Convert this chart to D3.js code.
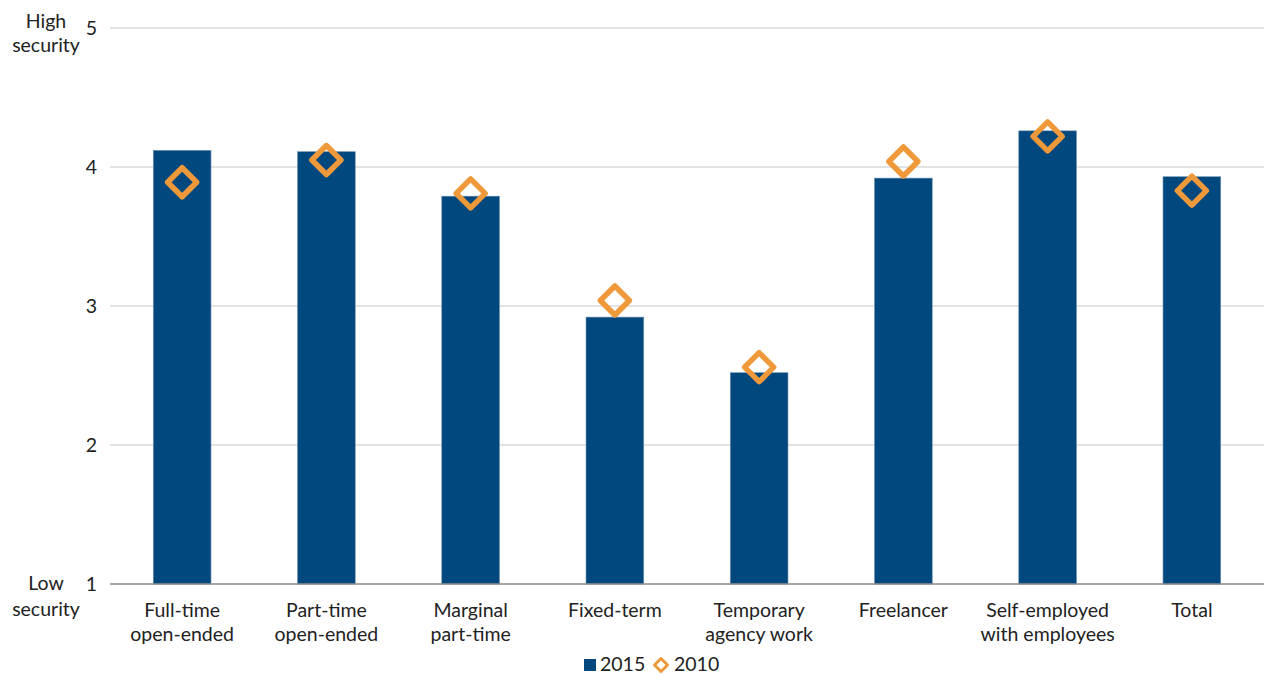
<!doctype html>
<html>
  <head>
    <meta charset="utf-8">
    <title>Perceived job security by employment type</title>
    <script src="https://cdnjs.cloudflare.com/ajax/libs/d3/7.8.5/d3.min.js"></script>
    <style>
      body { margin: 0; background: #fff; }
      text { font-family: "Source Sans Pro", Lato, "Noto Sans", sans-serif; fill: #222; }
    </style>
  </head>
  <body>
    <div id="chart"></div>
    <script>
      // data
      const categories = [
        ['Full-time', 'open-ended'],
        ['Part-time', 'open-ended'],
        ['Marginal', 'part-time'],
        ['Fixed-term'],
        ['Temporary', 'agency work'],
        ['Freelancer'],
        ['Self-employed', 'with employees'],
        ['Total']
      ];
      const values2015 = [4.12, 4.11, 3.79, 2.92, 2.52, 3.92, 4.26, 3.93];
      const values2010 = [3.89, 4.05, 3.81, 3.04, 2.56, 4.04, 4.22, 3.83];
      const yTicks = [1, 2, 3, 4, 5];

      const width = 1264, height = 675;
      const plotLeft = 110, plotRight = 1264, plotTop = 28, plotBottom = 584;
      const fs = '19.5px';

      const svg = d3.select('#chart').append('svg')
        .attr('width', width)
        .attr('height', height);

      const x = d3.scaleBand()
        .domain(d3.range(categories.length))
        .range([plotLeft, plotRight])
        .paddingInner(0.6)
        .paddingOuter(0.3);

      const y = d3.scaleLinear().domain([1, 5]).range([plotBottom, plotTop]);

      // gridlines
      svg.append('g').selectAll('line')
        .data(yTicks.filter(d => d > 1))
        .join('line')
        .attr('x1', plotLeft).attr('x2', plotRight)
        .attr('y1', d => y(d)).attr('y2', d => y(d))
        .attr('stroke', '#c6c6c6')
        .attr('stroke-width', 1);

      // y tick labels
      svg.append('g').selectAll('text')
        .data(yTicks)
        .join('text')
        .attr('x', 97)
        .attr('y', d => y(d))
        .attr('dy', '0.35em')
        .attr('text-anchor', 'end')
        .style('font-size', fs)
        .text(d => d);

      // high / low security labels
      const hi = svg.append('text').attr('text-anchor', 'middle').style('font-size', fs);
      hi.append('tspan').attr('x', 46).attr('y', 28).text('High');
      hi.append('tspan').attr('x', 46).attr('y', 52).text('security');
      const lo = svg.append('text').attr('text-anchor', 'middle').style('font-size', fs);
      lo.append('tspan').attr('x', 46).attr('y', 590).text('Low');
      lo.append('tspan').attr('x', 46).attr('y', 616).text('security');

      // bars 2015
      svg.append('g').selectAll('rect')
        .data(values2015)
        .join('rect')
        .attr('x', (d, i) => x(i))
        .attr('y', d => y(d))
        .attr('width', x.bandwidth())
        .attr('height', d => y(1) - y(d))
        .attr('fill', '#00487d')
        .attr('stroke', '#6d8fb0')
        .attr('stroke-width', 0.6);

      // baseline
      svg.append('line')
        .attr('x1', plotLeft).attr('x2', plotRight)
        .attr('y1', y(1)).attr('y2', y(1))
        .attr('stroke', '#8a8a8a')
        .attr('stroke-width', 1.3);

      // diamonds 2010
      const diamond = r => `M0,${-r}L${r},0L0,${r}L${-r},0Z`;
      svg.append('g').selectAll('path')
        .data(values2010)
        .join('path')
        .attr('d', diamond(14.5))
        .attr('transform', (d, i) => `translate(${x(i) + x.bandwidth() / 2},${y(d)})`)
        .attr('fill', 'none')
        .attr('stroke', '#f0993b')
        .attr('stroke-width', 5.5)
        .attr('stroke-linejoin', 'round');

      // category labels
      const cat = svg.append('g').selectAll('text')
        .data(categories)
        .join('text')
        .attr('text-anchor', 'middle')
        .style('font-size', fs);
      cat.selectAll('tspan')
        .data((d, i) => d.map(t => ({ t, i })))
        .join('tspan')
        .attr('x', d => x(d.i) + x.bandwidth() / 2)
        .attr('y', (d, j) => 617 + j * 24)
        .text(d => d.t);

      // legend
      const lg = svg.append('g');
      lg.append('rect')
        .attr('x', 584).attr('y', 659)
        .attr('width', 12).attr('height', 12)
        .attr('fill', '#00487d');
      lg.append('text')
        .attr('x', 600).attr('y', 671)
        .style('font-size', fs)
        .text('2015');
      lg.append('path')
        .attr('d', diamond(6.5))
        .attr('transform', 'translate(661,665)')
        .attr('fill', 'none')
        .attr('stroke', '#f0993b')
        .attr('stroke-width', 3)
        .attr('stroke-linejoin', 'round');
      lg.append('text')
        .attr('x', 674).attr('y', 671)
        .style('font-size', fs)
        .text('2010');
    </script>
  </body>
</html>
